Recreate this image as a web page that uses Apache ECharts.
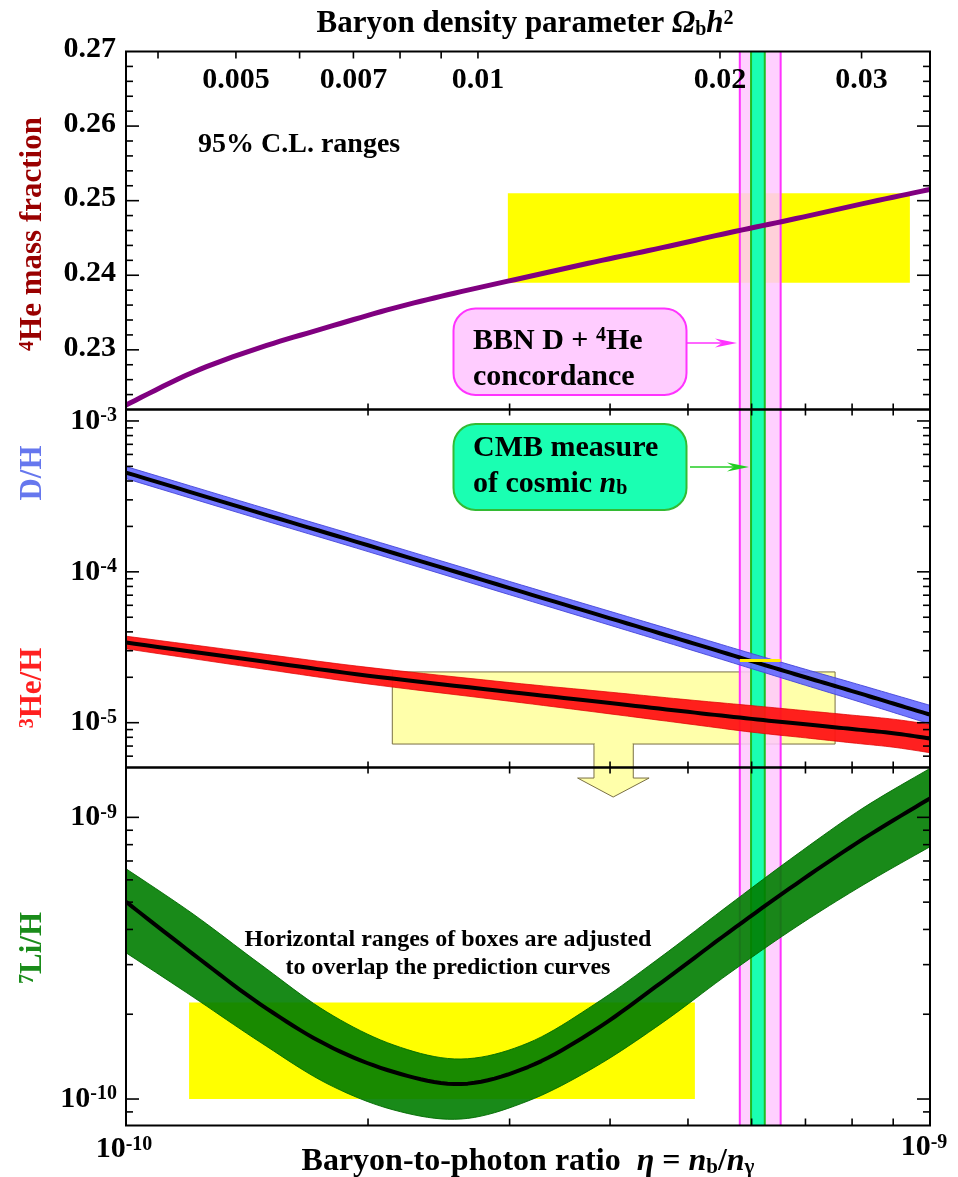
<!DOCTYPE html>
<html>
<head>
<meta charset="utf-8">
<script src="https://cdn.jsdelivr.net/npm/echarts@6/dist/echarts.min.js"></script>
<style>
  html, body { margin: 0; padding: 0; background: #fff; }
  #chart { width: 958px; height: 1177px; }
</style>
</head>
<body>
<div id="chart"></div>
<script>
// ---------- data (η given in units of 1e-10) ----------
const ETA_UNIT = 1e-10;
const ETA_PER_OMEGA = 274;           // η10 = 274 Ω_b h²

// sampling grid in η10 used for the ⁴He and ⁷Li predictions
const gridEta = [1, 1.212, 1.468, 1.778, 2.154, 2.610, 3.162, 3.831, 4.642, 5.623, 6.813, 8.254, 10];

// ⁴He mass fraction Yp
const he4Yp = [0.2226, 0.2270, 0.2303, 0.2330, 0.2356, 0.2378, 0.2398, 0.2418, 0.2437, 0.2457, 0.2476, 0.2496, 0.2515];

// D/H and ³He/H: central prediction and band half-width (dex)
const abEta  = [1, 1.5, 2, 3, 4, 5, 6, 7, 8, 9, 10];
const dhMid  = [4.55e-4, 2.37e-4, 1.50e-4, 7.80e-5, 4.92e-5, 3.44e-5, 2.56e-5, 2.00e-5, 1.62e-5, 1.34e-5, 1.13e-5];
const dhErr  = [0.040, 0.041, 0.042, 0.044, 0.046, 0.048, 0.050, 0.053, 0.056, 0.059, 0.062];
const he3Mid = [3.40e-5, 2.52e-5, 2.05e-5, 1.60e-5, 1.35e-5, 1.18e-5, 1.06e-5, 9.76e-6, 9.08e-6, 8.52e-6, 7.85e-6];
const he3Err = [0.042, 0.050, 0.055, 0.062, 0.072, 0.080, 0.088, 0.090, 0.092, 0.093, 0.094];

// ⁷Li/H: central prediction with upper and lower band edges
const liMid   = [5.014e-10, 3.270e-10, 2.174e-10, 1.554e-10, 1.247e-10, 1.130e-10, 1.299e-10,
                 1.758e-10, 2.602e-10, 3.915e-10, 5.798e-10, 8.375e-10, 1.168e-9];
const liUpper = [6.570e-10, 4.536e-10, 3.015e-10, 2.036e-10, 1.554e-10, 1.387e-10, 1.580e-10,
                 2.174e-10, 3.217e-10, 4.884e-10, 7.346e-10, 1.079e-9, 1.492e-9];
const liLower = [3.306e-10, 2.302e-10, 1.593e-10, 1.135e-10, 9.14e-11, 8.49e-11, 9.84e-11,
                 1.299e-10, 1.862e-10, 2.790e-10, 4.079e-10, 5.751e-10, 7.865e-10];

// vertical η ranges
const concordEta = [5.80, 6.52];   // BBN D + ⁴He concordance
const cmbEta     = [5.99, 6.23];   // CMB measure

// observational boxes
const he4BoxEta = [2.985, 9.44],  he4BoxY = [0.2390, 0.2510];
const lowBoxEta = [2.144, 7.62],  lowBoxY = [7.22e-6, 2.17e-5];
const liBoxEta  = [1.198, 5.10],  liBoxY  = [1.0e-10, 2.20e-10];
const dhObsEta  = [5.80, 6.52],   dhObs   = 2.58e-5;

// axis ticks and labels
const he4Ticks     = [0.23, 0.24, 0.25, 0.26, 0.27];
const he4TickLbl   = ['0.23', '0.24', '0.25', '0.26', '0.27'];
const midDecades   = [-5, -4, -3];
const lowDecades   = [-10, -9];
const omegaTicks   = [0.004, 0.005, 0.006, 0.007, 0.008, 0.009, 0.01, 0.02, 0.03];
const omegaLblVal  = [0.005, 0.007, 0.01, 0.02, 0.03];
const omegaLbl     = ['0.005', '0.007', '0.01', '0.02', '0.03'];
const etaMinor     = [2, 3, 4, 5, 6, 7, 8, 9];

// ---------- helpers ----------
const FONT = '"Liberation Serif", "Times New Roman", serif';
const Y_RANGE = [[0.222, 0.27], [Math.pow(10, -5.297), Math.pow(10, -2.924)], [Math.pow(10, -10.094), Math.pow(10, -8.823)]];
const ANCHOR_Y = [0.24, 1e-4, 1e-9];

function richSet(size, color) {
  const base = { fontFamily: FONT, fontWeight: 'bold', fill: color };
  const small = Math.round(size * 0.66);
  return {
    n:  Object.assign({}, base, { fontSize: size, lineHeight: size }),
    i:  Object.assign({}, base, { fontSize: size, lineHeight: size, fontStyle: 'italic' }),
    sp: Object.assign({}, base, { fontSize: small, lineHeight: Math.round(size * 0.3), verticalAlign: 'top' }),
    sb: Object.assign({}, base, { fontSize: small, lineHeight: Math.round(size * 0.5), verticalAlign: 'bottom' })
  };
}

// Catmull-Rom sampling of pixel points for smooth drawing
function smooth(pts, n) {
  n = n || 10;
  if (pts.length < 3) return pts;
  const out = [];
  for (let i = 0; i < pts.length - 1; i++) {
    const p0 = pts[Math.max(i - 1, 0)], p1 = pts[i], p2 = pts[i + 1], p3 = pts[Math.min(i + 2, pts.length - 1)];
    for (let k = 0; k < n; k++) {
      const t = k / n, t2 = t * t, t3 = t2 * t;
      out.push([0, 1].map(j => 0.5 * (2 * p1[j] + (-p0[j] + p2[j]) * t +
        (2 * p0[j] - 5 * p1[j] + 4 * p2[j] - p3[j]) * t2 + (-p0[j] + 3 * p1[j] - 3 * p2[j] + p3[j]) * t3)));
    }
  }
  out.push(pts[pts.length - 1]);
  return out;
}

const P = (api, eta10, v) => api.coord([eta10 * ETA_UNIT, v]);
const zip = (xs, ys) => xs.map((x, i) => [x, ys[i]]);

function customSeries(g, z, clip, render) {
  return {
    type: 'custom', xAxisIndex: g, yAxisIndex: g, z: z, clip: clip, silent: true,
    data: [[5 * ETA_UNIT, ANCHOR_Y[g]]], renderItem: render
  };
}

function bandSeries(g, upper, lower, style, z) {
  return customSeries(g, z, true, function (params, api) {
    const up = smooth(upper.map(p => P(api, p[0], p[1])));
    const lo = smooth(lower.map(p => P(api, p[0], p[1]))).reverse();
    return { type: 'polygon', shape: { points: up.concat(lo) }, style: style };
  });
}

function curveSeries(g, pts, color, width, z) {
  return customSeries(g, z, true, function (params, api) {
    return {
      type: 'polyline', shape: { points: smooth(pts.map(p => P(api, p[0], p[1]))) },
      style: { stroke: color, lineWidth: width, fill: 'none', lineJoin: 'round', lineCap: 'butt' }
    };
  });
}

function boxSeries(g, etas, ys, style, z) {
  return customSeries(g, z, true, function (params, api) {
    const a = P(api, etas[0], ys[1]), b = P(api, etas[1], ys[0]);
    return { type: 'rect', shape: { x: a[0], y: a[1], width: b[0] - a[0], height: b[1] - a[1] }, style: style };
  });
}

// pink concordance band and green CMB band, per panel
function verticalBands(g) {
  return customSeries(g, 2, true, function (params, api) {
    const cs = params.coordSys;
    const T = cs.y, H = cs.height;
    const x = e => P(api, e, ANCHOR_Y[g])[0];
    const c0 = x(concordEta[0]), c1 = x(concordEta[1]), m0 = x(cmbEta[0]), m1 = x(cmbEta[1]);
    return {
      type: 'group', children: [
        { type: 'rect', shape: { x: c0, y: T, width: c1 - c0, height: H }, style: { fill: 'rgba(255,200,255,0.85)' } },
        { type: 'rect', shape: { x: m0, y: T, width: m1 - m0, height: H }, style: { fill: '#1affb2' } },
        { type: 'line', shape: { x1: m0, y1: T, x2: m0, y2: T + H }, style: { stroke: '#22bb22', lineWidth: 2 } },
        { type: 'line', shape: { x1: m1, y1: T, x2: m1, y2: T + H }, style: { stroke: '#22bb22', lineWidth: 2 } },
        { type: 'line', shape: { x1: c0, y1: T, x2: c0, y2: T + H }, style: { stroke: '#ff33ff', lineWidth: 2 } },
        { type: 'line', shape: { x1: c1, y1: T, x2: c1, y2: T + H }, style: { stroke: '#ff33ff', lineWidth: 2 } }
      ]
    };
  });
}

// frame, ticks and tick labels of one panel
function frameSeries(g) {
  return customSeries(g, 30, false, function (params, api) {
    const cs = params.coordSys;
    const L = cs.x, R = cs.x + cs.width, T = cs.y, B = cs.y + cs.height;
    const kids = [];
    const line = (x1, y1, x2, y2) => kids.push({ type: 'line', shape: { x1, y1, x2, y2 }, style: { stroke: '#000', lineWidth: 1.6 } });
    const yPix = v => P(api, 1, v)[1];
    const xPix = e => P(api, e, ANCHOR_Y[g])[0];
    const lblRich = richSet(30, '#000');
    const text = (x, y, t, align) => kids.push({
      type: 'text', x: x, y: y,
      style: { text: t, rich: lblRich, align: align, verticalAlign: 'middle' }
    });

    // y ticks
    const yt = [];
    if (g === 0) {
      for (let k = 111; k <= 135; k++) {
        const v = k * 0.002;
        yt.push([v, Math.abs(v * 100 - Math.round(v * 100)) < 1e-6]);
      }
    } else {
      const lo = Math.log10(Y_RANGE[g][0]), hi = Math.log10(Y_RANGE[g][1]);
      for (let d = Math.floor(lo); d <= Math.ceil(hi); d++) {
        for (let m = 1; m <= 9; m++) {
          const lv = d + Math.log10(m);
          if (lv >= lo && lv <= hi) yt.push([Math.pow(10, lv), m === 1]);
        }
      }
    }
    yt.forEach(([v, major]) => {
      const y = yPix(v);
      if (y < T + 1 || y > B - 1) return;
      const len = major ? 13 : 7;
      line(L, y, L + len, y);
      line(R, y, R - len, y);
    });

    // x ticks
    if (g === 0) {
      omegaTicks.forEach(o => { const x = xPix(o * ETA_PER_OMEGA); line(x, T, x, T + 7); });
    }
    etaMinor.forEach(e => {
      const x = xPix(e);
      if (g < 2) line(x, B - 6, x, B + 6);
      else line(x, B - 7, x, B);
    });

    // frame
    kids.push({ type: 'rect', shape: { x: L, y: T, width: R - L, height: B - T }, style: { fill: 'none', stroke: '#000', lineWidth: 2 } });

    // tick labels
    if (g === 0) {
      he4Ticks.forEach((v, i) => text(L - 10, yPix(v) - 2, '{n|' + he4TickLbl[i] + '}', 'right'));
      omegaLblVal.forEach((o, i) => text(xPix(o * ETA_PER_OMEGA), T + 29, '{n|' + omegaLbl[i] + '}', 'center'));
    } else {
      const decs = g === 1 ? midDecades : lowDecades;
      decs.forEach(d => text(L - 9, yPix(Math.pow(10, d)), '{n|10}{sp|' + d + '}', 'right'));
    }
    if (g === 2) {
      text(L - 2, B + 24, '{n|10}{sp|-10}', 'center');
      text(R - 6, B + 22, '{n|10}{sp|-9}', 'center');
    }
    return { type: 'group', children: kids };
  });
}

// ---------- series ----------
const dhUp  = abEta.map((e, i) => [e, dhMid[i] * Math.pow(10, dhErr[i])]);
const dhLo  = abEta.map((e, i) => [e, dhMid[i] / Math.pow(10, dhErr[i])]);
const he3Up = abEta.map((e, i) => [e, he3Mid[i] * Math.pow(10, he3Err[i])]);
const he3Lo = abEta.map((e, i) => [e, he3Mid[i] / Math.pow(10, he3Err[i])]);

const series = [];
// observational boxes
series.push(boxSeries(0, he4BoxEta, he4BoxY, { fill: '#ffff00' }, 1));
series.push(boxSeries(2, liBoxEta, liBoxY, { fill: '#ffff00' }, 1));
series.push(boxSeries(1, lowBoxEta, lowBoxY, { fill: '#ffffaa', stroke: '#7a7044', lineWidth: 1 }, 1));
// downward arrow below the D/³He box
series.push(customSeries(1, 1, false, function (params, api) {
  const yb = P(api, 5, lowBoxY[0])[1];
  const x = e => P(api, e, 1e-4)[0];
  const sl = x(3.82), sr = x(4.275), hl = x(3.645), hr = x(4.473), tip = x(4.036);
  return {
    type: 'group', children: [
      { type: 'polygon', shape: { points: [[sl, yb], [sl, yb + 34], [hl, yb + 34], [tip, yb + 53], [hr, yb + 34], [sr, yb + 34], [sr, yb]] },
        style: { fill: '#ffffaa', stroke: '#7a7044', lineWidth: 1 } },
      { type: 'rect', shape: { x: sl + 0.6, y: yb - 1.5, width: sr - sl - 1.2, height: 3 }, style: { fill: '#ffffaa' } }
    ]
  };
}));
// vertical bands
[0, 1, 2].forEach(g => series.push(verticalBands(g)));
// prediction bands
series.push(bandSeries(1, dhUp, dhLo, { fill: 'rgba(95,100,255,0.88)', stroke: 'rgba(70,70,215,0.9)', lineWidth: 1 }, 3));
series.push(bandSeries(1, he3Up, he3Lo, { fill: 'rgba(255,20,20,0.95)', stroke: 'rgba(220,0,0,0.9)', lineWidth: 0.8 }, 3));
series.push(bandSeries(2, zip(gridEta, liUpper), zip(gridEta, liLower), { fill: 'rgba(0,125,0,0.9)', stroke: 'rgba(0,105,0,0.9)', lineWidth: 1 }, 3));
// central curves
series.push(curveSeries(0, zip(gridEta, he4Yp), '#800080', 5, 4));
series.push(curveSeries(1, zip(abEta, dhMid), '#000', 4, 4));
series.push(curveSeries(1, zip(abEta, he3Mid), '#000', 4, 4));
series.push(curveSeries(2, zip(gridEta, liMid), '#000', 4, 4));
// observed D/H
series.push(customSeries(1, 5, true, function (params, api) {
  const a = P(api, dhObsEta[0], dhObs), b = P(api, dhObsEta[1], dhObs);
  return { type: 'line', shape: { x1: a[0], y1: a[1], x2: b[0], y2: b[1] }, style: { stroke: '#ffee00', lineWidth: 3 } };
}));
// frames, ticks, labels
[0, 1, 2].forEach(g => series.push(frameSeries(g)));

// ---------- annotations ----------
function label(x, y, text, size, color, extra) {
  const el = {
    type: 'text', x: x, y: y, z: 100, silent: true,
    style: { text: text, rich: richSet(size, color), align: 'center', verticalAlign: 'middle' }
  };
  if (extra && extra.align) el.style.align = extra.align;
  if (extra && extra.rotation) el.rotation = extra.rotation;
  return el;
}
function arrow(x1, x2, y, color) {
  return [
    { type: 'line', z: 100, shape: { x1: x1, y1: y, x2: x2 - 8, y2: y }, style: { stroke: color, lineWidth: 1.5 } },
    { type: 'polygon', z: 100, shape: { points: [[x2, y], [x2 - 22, y - 4.5], [x2 - 15, y], [x2 - 22, y + 4.5]] }, style: { fill: color } }
  ];
}
const ROT = Math.PI / 2, LEFT = { align: 'left' };
const graphic = [
  label(525, 24, '{n|Baryon density parameter }{i|Ω}{sb|b}{i|h}{sp|2}', 31, '#000'),
  label(528, 1162, '{n|Baryon-to-photon ratio  }{i|η}{n| = }{i|n}{sb|b}{n|/}{i|n}{sb|γ}', 32, '#000'),
  label(198, 145, '{n|95% C.L. ranges}', 28, '#000', LEFT),
  label(33, 234, '{sp|4}{n|He mass fraction}', 31, '#990000', { rotation: ROT }),
  label(33, 473, '{n|D/H}', 31, '#6677ee', { rotation: ROT }),
  label(33, 688, '{sp|3}{n|He/H}', 31, '#ff2020', { rotation: ROT }),
  label(33, 948, '{sp|7}{n|Li/H}', 31, '#1a8c1a', { rotation: ROT }),
  label(448, 940, '{n|Horizontal ranges of boxes are adjusted}', 24, '#000'),
  label(448, 968, '{n|to overlap the prediction curves}', 24, '#000'),
  { type: 'rect', z: 99, shape: { x: 453.5, y: 308.5, width: 233, height: 86.5, r: 22 }, style: { fill: '#ffccff', stroke: '#ff33ff', lineWidth: 2 } },
  label(473, 341, '{n|BBN D + }{sp|4}{n|He}', 30, '#000', LEFT),
  label(473, 377, '{n|concordance}', 30, '#000', LEFT),
  { type: 'rect', z: 99, shape: { x: 453.5, y: 424, width: 233, height: 86, r: 22 }, style: { fill: '#1affb2', stroke: '#33bb33', lineWidth: 2 } },
  label(473, 448, '{n|CMB measure}', 30, '#000', LEFT),
  label(473, 484, '{n|of cosmic }{i|n}{sb|b}', 30, '#000', LEFT)
].concat(arrow(687, 737, 343, '#ff33ff'), arrow(690, 749, 467, '#22cc22'));

// ---------- chart ----------
const grids = [0, 1, 2].map(g => ({ left: 126, right: 28, top: 51.5 + 358 * g, height: 358, show: false }));
const chart = echarts.init(document.getElementById('chart'), null, { renderer: 'canvas' });
chart.setOption({
  animation: false,
  backgroundColor: '#fff',
  grid: grids,
  xAxis: [0, 1, 2].map(g => ({ type: 'log', logBase: 10, gridIndex: g, min: ETA_UNIT, max: 10 * ETA_UNIT, show: false })),
  yAxis: [0, 1, 2].map(g => ({ type: g === 0 ? 'value' : 'log', logBase: 10, gridIndex: g, min: Y_RANGE[g][0], max: Y_RANGE[g][1], show: false, scale: true })),
  series: series,
  graphic: graphic
});
</script>
</body>
</html>
